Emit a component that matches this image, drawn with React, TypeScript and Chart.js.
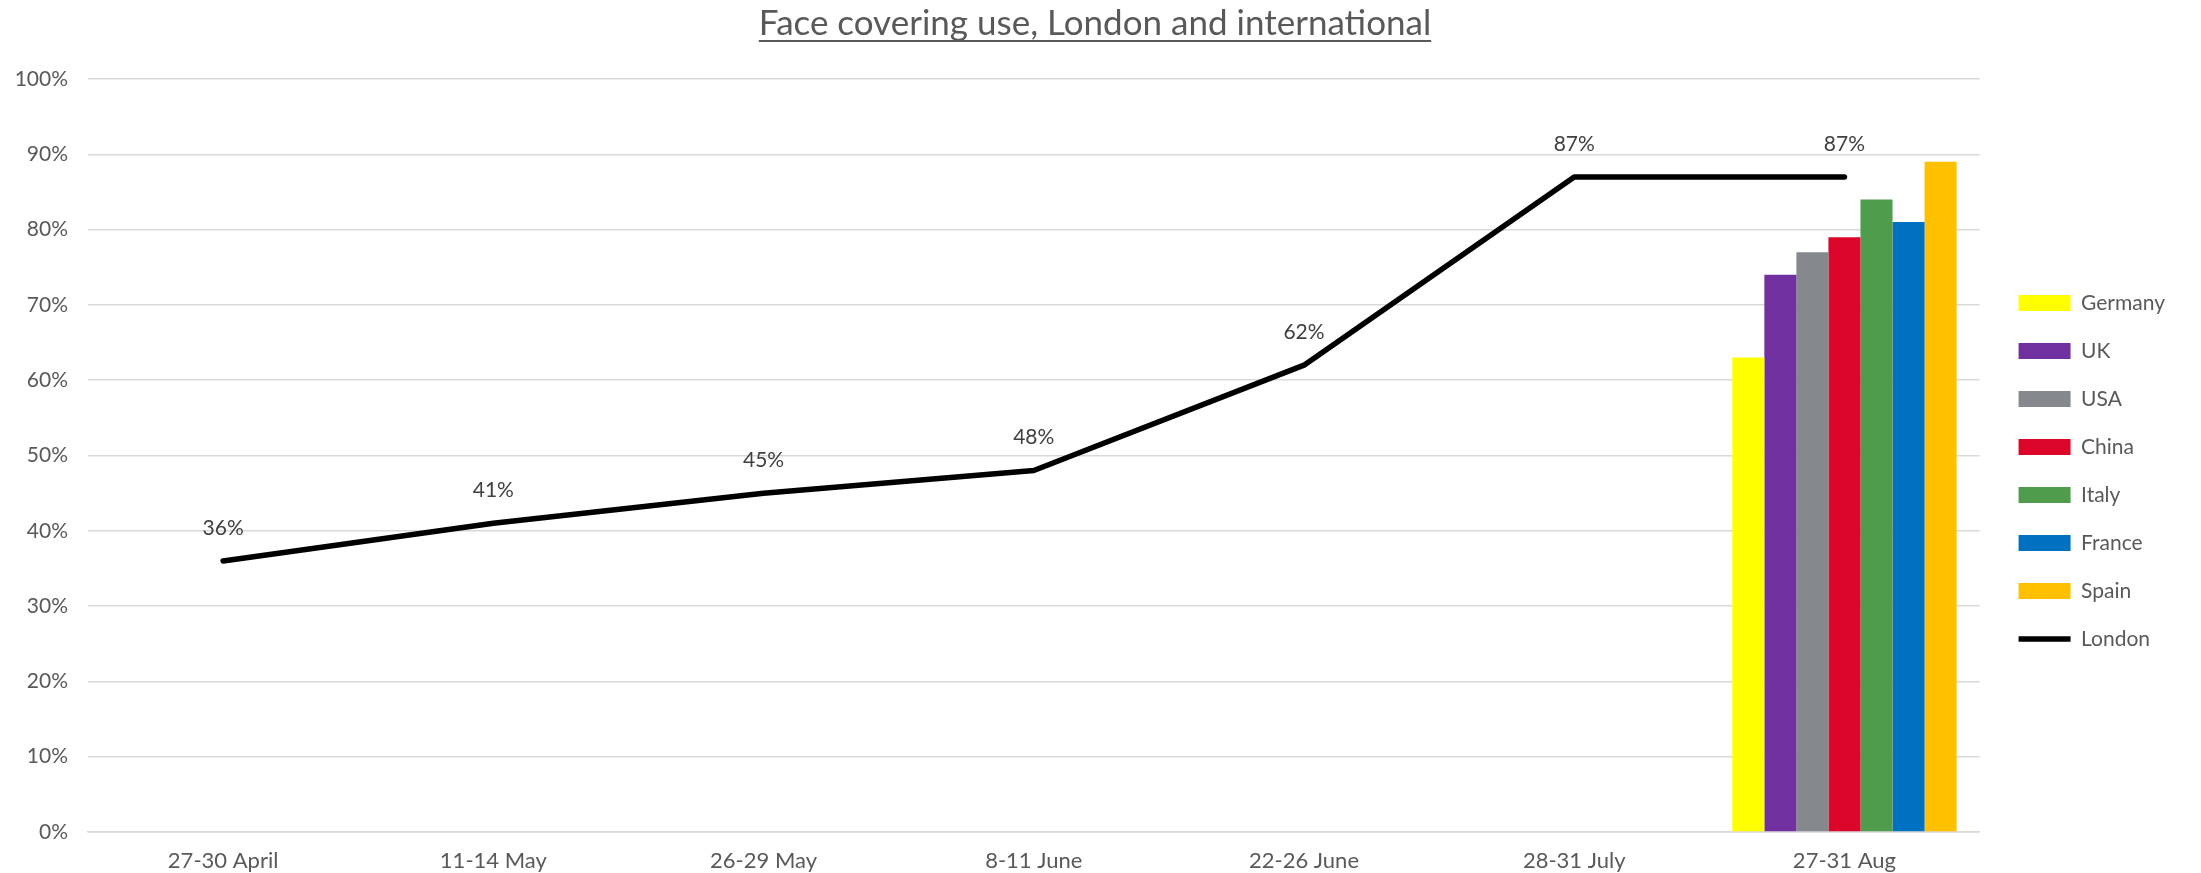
import React, { useEffect, useRef } from "react";
import { Chart, registerables } from "chart.js";

Chart.register(...registerables);

const categories = ["27-30 April", "11-14 May", "26-29 May", "8-11 June", "22-26 June", "28-31 July", "27-31 Aug"];
const londonValues = [36, 41, 45, 48, 62, 87, 87];
const countryNames = ["Germany", "UK", "USA", "China", "Italy", "France", "Spain"];
const countryValues = [63, 74, 77, 79, 84, 81, 89];
const countryColors = ["#FFFF00", "#7030A0", "#85898D", "#DC062B", "#4F9C4C", "#0070C0", "#FFC000"];
const yTickValues = [0, 10, 20, 30, 40, 50, 60, 70, 80, 90, 100];
const titleText = "Face covering use, London and international";

const FONT = "Lato, 'Open Sans', sans-serif";
const TEXT = "#595959";
const TITLE_SIZE = 35;
const TITLE_PAD_TOP = 3;

const labelPlugin = {
  id: "londonLabels",
  afterDatasetsDraw(chart: any) {
    const ctx = chart.ctx;
    chart.data.datasets.forEach((ds: any, di: number) => {
      if (ds.type !== "line") return;
      const meta = chart.getDatasetMeta(di);
      ctx.save();
      ctx.font = `21px ${FONT}`;
      ctx.fillStyle = "#404040";
      ctx.textAlign = "center";
      ctx.textBaseline = "middle";
      meta.data.forEach((pt: any, i: number) => {
        ctx.fillText(`${ds.data[i]}%`, pt.x, pt.y - 33);
      });
      ctx.restore();
    });
  },
};

const underlinePlugin = {
  id: "titleUnderline",
  afterDraw(chart: any) {
    const tb = chart.titleBlock;
    if (!tb) return;
    const ctx = chart.ctx;
    ctx.save();
    ctx.font = `${TITLE_SIZE}px ${FONT}`;
    const w = ctx.measureText(titleText).width;
    const cx = (tb.left + tb.right) / 2;
    const cy = tb.top + TITLE_PAD_TOP + (TITLE_SIZE * 1.2) / 2;
    ctx.strokeStyle = TEXT;
    ctx.lineWidth = 2;
    ctx.beginPath();
    ctx.moveTo(cx - w / 2, cy + 17);
    ctx.lineTo(cx + w / 2, cy + 17);
    ctx.stroke();
    ctx.restore();
  },
};

export default function App() {
  const ref = useRef<HTMLCanvasElement>(null);
  useEffect(() => {
    if (!ref.current) return;
    const last = categories.length - 1;
    const barSets = countryNames.map((name, k) => ({
      type: "bar" as const,
      label: name,
      data: categories.map((_, i) => (i === last ? countryValues[k] : null)),
      backgroundColor: countryColors[k],
      borderWidth: 0,
      pointStyle: "rect",
      categoryPercentage: 0.83,
      barPercentage: 1.0,
    }));
    const chart = new Chart(ref.current, {
      type: "bar",
      data: {
        labels: categories,
        datasets: [
          ...barSets,
          {
            type: "line" as const,
            label: "London",
            data: londonValues,
            borderColor: "#000000",
            backgroundColor: "#000000",
            borderWidth: 5.5,
            pointRadius: 0,
            pointStyle: "line",
            borderCapStyle: "round",
            borderJoinStyle: "round",
            tension: 0,
          },
        ] as any,
      },
      options: {
        animation: false,
        responsive: true,
        maintainAspectRatio: false,
        layout: { padding: { left: 15, right: 26, top: 0, bottom: 0 } },
        plugins: {
          tooltip: { enabled: false },
          title: {
            display: true,
            text: titleText,
            color: TEXT,
            font: { family: FONT, size: TITLE_SIZE, weight: "normal", lineHeight: 1.2 },
            padding: { top: TITLE_PAD_TOP, bottom: 34 },
          },
          legend: {
            position: "right",
            align: "center",
            title: { display: true, text: " ", font: { size: 10, lineHeight: 1.2 }, padding: 28.5 },
            labels: {
              usePointStyle: true,
              pointStyleWidth: 52,
              boxHeight: 16,
              padding: 27,
              color: TEXT,
              font: { family: FONT, size: 21 },
            },
          },
        },
        scales: {
          x: {
            grid: { display: false, drawTicks: false },
            border: { display: true, color: "#d9d9d9", width: 1.5 },
            ticks: { color: TEXT, font: { family: FONT, size: 22 }, padding: 16, maxRotation: 0 },
            afterFit: (s: any) => {
              s.height = 41;
            },
          },
          y: {
            min: 0,
            max: 100,
            afterBuildTicks: (s: any) => {
              s.ticks = yTickValues.map((v) => ({ value: v }));
            },
            grid: { color: "#d9d9d9", lineWidth: 1.5, drawTicks: false },
            border: { display: false },
            ticks: {
              color: TEXT,
              font: { family: FONT, size: 21 },
              padding: 20,
              callback: (v: any) => `${v}%`,
            },
            afterFit: (s: any) => {
              s.width = 73;
            },
          },
          y2: {
            position: "right",
            min: 0,
            max: 100,
            grid: { display: false, drawTicks: false },
            border: { display: false },
            ticks: { display: false },
            afterFit: (s: any) => {
              s.width = 12;
            },
          },
        },
      } as any,
      plugins: [labelPlugin, underlinePlugin],
    });
    return () => chart.destroy();
  }, []);
  return (
    <div style={{ position: "fixed", left: 0, top: 0, width: "2201px", height: "873px", background: "#fff" }}>
      <canvas ref={ref} />
    </div>
  );
}
